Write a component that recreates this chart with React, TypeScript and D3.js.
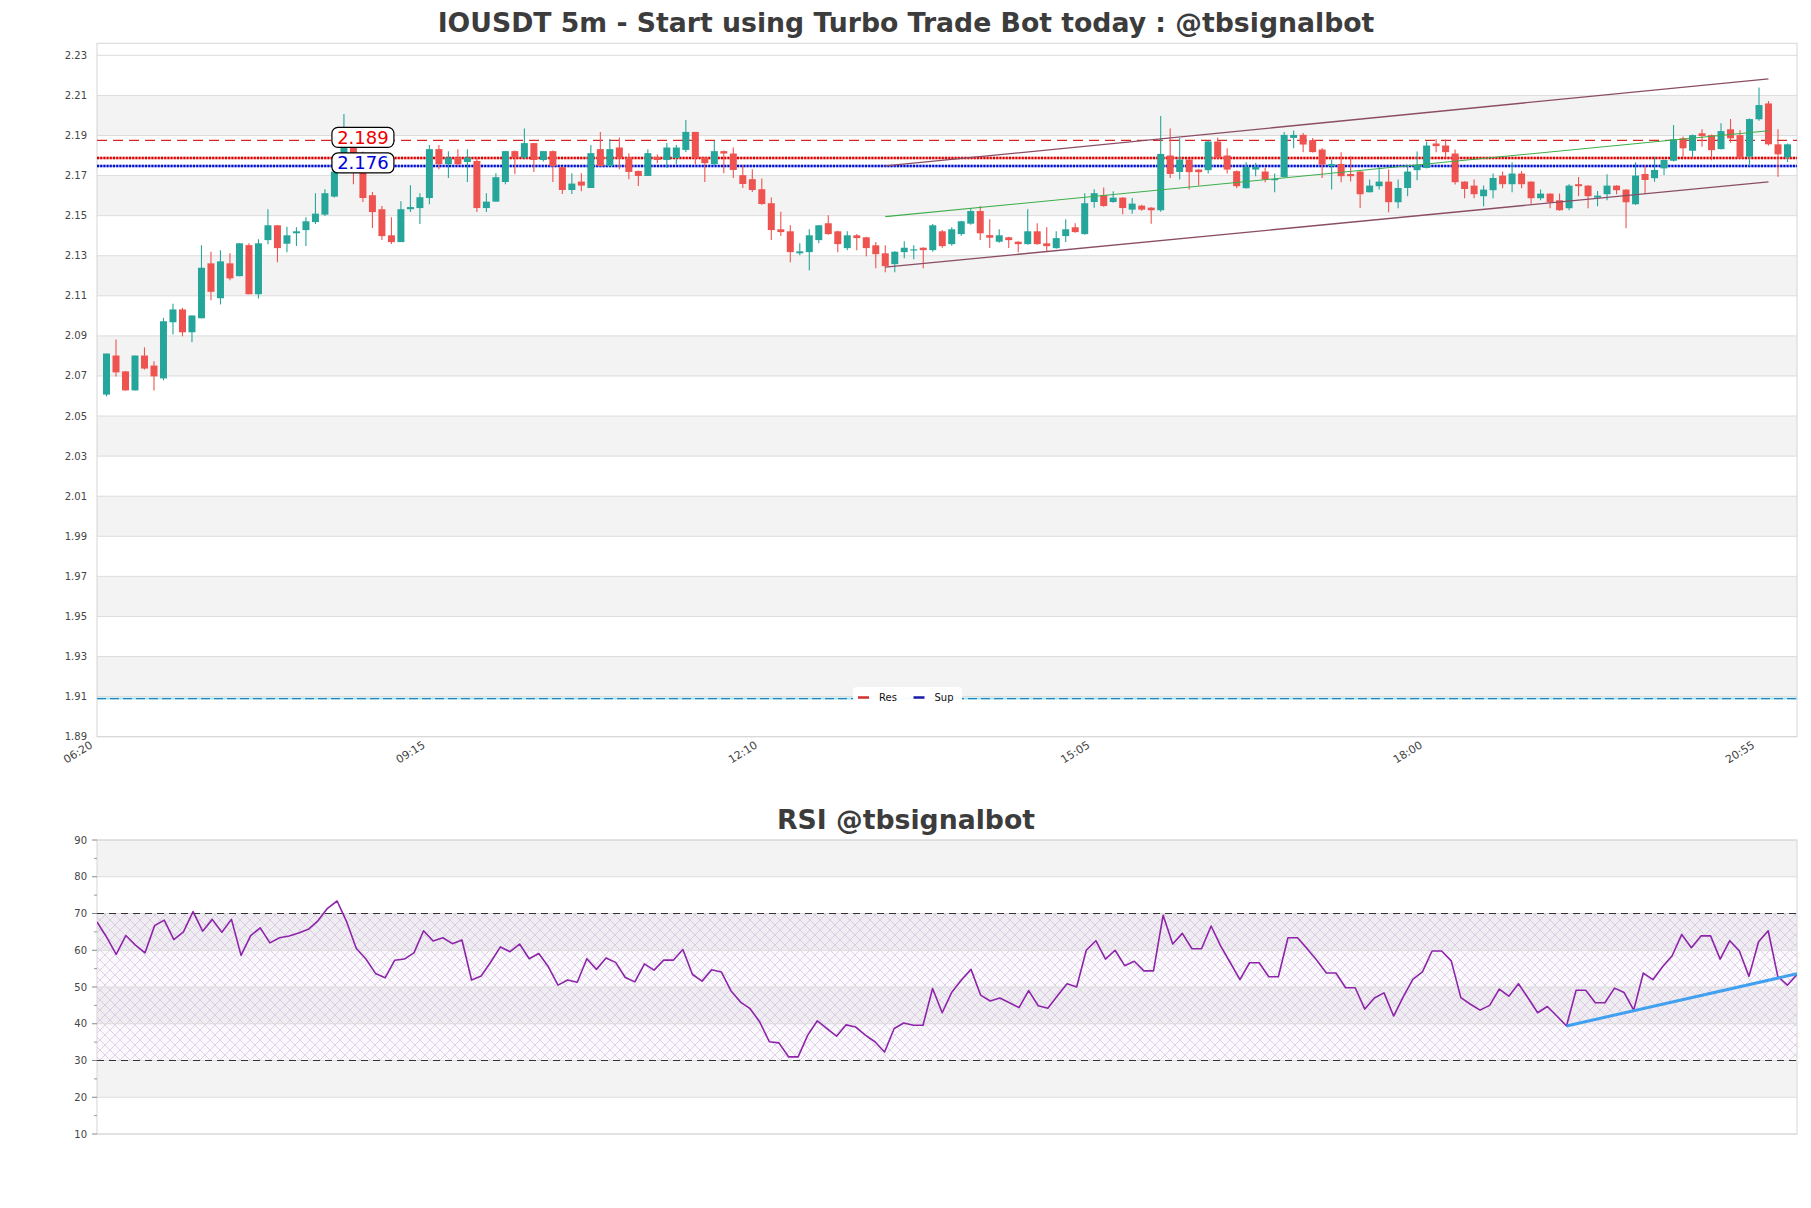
import React from 'react';
import * as d3 from 'd3';

const W = 1811;
const H = 1208;

// ---------- DATA ----------
const open = [2.0607,2.0802,2.0723,2.0628,2.0802,2.0752,2.0688,2.0968,2.1032,2.0918,2.0988,2.1262,2.1088,2.1262,2.1198,2.1353,2.1108,2.1378,2.1452,2.1360,2.1412,2.1428,2.1468,2.1505,2.1595,2.1720,2.1848,2.1715,2.1602,2.1532,2.1402,2.1368,2.1532,2.1538,2.1588,2.1832,2.1757,2.1790,2.1768,2.1773,2.1538,2.1570,2.1668,2.1822,2.1790,2.1862,2.1778,2.1822,2.1742,2.1628,2.1670,2.1638,2.1832,2.1748,2.1840,2.1790,2.1723,2.1698,2.1793,2.1778,2.1788,2.1828,2.1918,2.1790,2.1757,2.1822,2.1810,2.1702,2.1682,2.1632,2.1562,2.1432,2.1422,2.1312,2.1318,2.1378,2.1462,2.1422,2.1338,2.1402,2.1392,2.1352,2.1312,2.1258,2.1318,2.1328,2.1340,2.1328,2.1422,2.1358,2.1408,2.1460,2.1523,2.1403,2.1370,2.1392,2.1370,2.1358,2.1422,2.1362,2.1338,2.1398,2.1442,2.1408,2.1568,2.1602,2.1568,2.1590,2.1530,2.1550,2.1540,2.1527,2.1800,2.1718,2.1780,2.1730,2.1727,2.1870,2.1800,2.1722,2.1637,2.1730,2.1720,2.1680,2.1693,2.1888,2.1903,2.1877,2.1830,2.1747,2.1758,2.1708,2.1720,2.1617,2.1647,2.1670,2.1567,2.1638,2.1727,2.1738,2.1860,2.1850,2.1810,2.1670,2.1650,2.1597,2.1627,2.1700,2.1657,2.1710,2.1670,2.1587,2.1610,2.1577,2.1537,2.1657,2.1650,2.1590,2.1607,2.1650,2.1630,2.1557,2.1708,2.1687,2.1736,2.1774,2.1886,2.1824,2.1911,2.1902,2.1832,2.1931,2.1902,2.1794,2.1981,2.2060,2.1856,2.1791];
const high = [2.0812,2.0882,2.0725,2.0802,2.0843,2.0773,2.0990,2.1060,2.1040,2.1002,2.1352,2.1320,2.1328,2.1312,2.1362,2.1362,2.1382,2.1532,2.1452,2.1445,2.1442,2.1492,2.1612,2.1632,2.1730,2.2007,2.1855,2.1820,2.1618,2.1548,2.1492,2.1572,2.1652,2.1612,2.1852,2.1852,2.1822,2.1832,2.1832,2.1790,2.1612,2.1712,2.1822,2.1825,2.1935,2.1862,2.1822,2.1825,2.1745,2.1712,2.1712,2.1852,2.1918,2.1882,2.1890,2.1812,2.1725,2.1832,2.1805,2.1862,2.1852,2.1977,2.1918,2.1792,2.1872,2.1825,2.1840,2.1752,2.1732,2.1685,2.1590,2.1520,2.1452,2.1362,2.1432,2.1452,2.1502,2.1425,2.1422,2.1408,2.1395,2.1368,2.1352,2.1322,2.1372,2.1352,2.1342,2.1458,2.1428,2.1442,2.1475,2.1535,2.1548,2.1482,2.1432,2.1395,2.1372,2.1532,2.1462,2.1442,2.1422,2.1482,2.1462,2.1612,2.1632,2.1640,2.1622,2.1592,2.1588,2.1555,2.1542,2.1997,2.1935,2.1888,2.1782,2.1732,2.1872,2.1890,2.1837,2.1725,2.1767,2.1763,2.1740,2.1710,2.1917,2.1925,2.1913,2.1888,2.1838,2.1780,2.1817,2.1797,2.1722,2.1680,2.1743,2.1730,2.1680,2.1750,2.1820,2.1870,2.1883,2.1880,2.1830,2.1672,2.1680,2.1650,2.1710,2.1720,2.1767,2.1723,2.1672,2.1630,2.1612,2.1610,2.1657,2.1693,2.1652,2.1623,2.1707,2.1652,2.1632,2.1767,2.1753,2.1794,2.1780,2.1952,2.1895,2.1905,2.1931,2.1905,2.1961,2.1982,2.1927,2.1985,2.2140,2.2072,2.1931,2.1860];
const low = [2.0598,2.0698,2.0627,2.0628,2.0732,2.0628,2.0678,2.0907,2.0898,2.0868,2.0988,2.1078,2.1057,2.1178,2.1198,2.1108,2.1087,2.1357,2.1268,2.1318,2.1348,2.1348,2.1458,2.1498,2.1590,2.1710,2.1657,2.1568,2.1438,2.1378,2.1358,2.1368,2.1518,2.1458,2.1557,2.1732,2.1688,2.1748,2.1668,2.1518,2.1518,2.1570,2.1657,2.1707,2.1782,2.1718,2.1770,2.1668,2.1608,2.1608,2.1622,2.1638,2.1745,2.1745,2.1732,2.1682,2.1648,2.1698,2.1762,2.1738,2.1755,2.1818,2.1755,2.1668,2.1752,2.1712,2.1688,2.1638,2.1618,2.1555,2.1378,2.1398,2.1268,2.1302,2.1228,2.1362,2.1405,2.1318,2.1328,2.1328,2.1298,2.1238,2.1218,2.1218,2.1288,2.1282,2.1238,2.1320,2.1340,2.1350,2.1400,2.1455,2.1378,2.1338,2.1365,2.1338,2.1318,2.1355,2.1355,2.1322,2.1335,2.1368,2.1415,2.1405,2.1540,2.1545,2.1565,2.1507,2.1510,2.1525,2.1460,2.1520,2.1688,2.1680,2.1630,2.1650,2.1710,2.1785,2.1710,2.1637,2.1635,2.1697,2.1667,2.1617,2.1690,2.1837,2.1817,2.1815,2.1688,2.1630,2.1667,2.1670,2.1538,2.1615,2.1630,2.1517,2.1537,2.1597,2.1677,2.1735,2.1817,2.1788,2.1655,2.1587,2.1587,2.1547,2.1587,2.1637,2.1617,2.1637,2.1560,2.1577,2.1537,2.1525,2.1527,2.1597,2.1537,2.1547,2.1577,2.1607,2.1437,2.1553,2.1611,2.1669,2.1703,2.1770,2.1794,2.1794,2.1844,2.1777,2.1830,2.1864,2.1785,2.1748,2.1974,2.1850,2.1694,2.1768];
const close = [2.0812,2.0718,2.0628,2.0802,2.0737,2.0698,2.0973,2.1032,2.0918,2.1002,2.1240,2.1120,2.1272,2.1187,2.1362,2.1108,2.1362,2.1452,2.1338,2.1402,2.1422,2.1472,2.1510,2.1612,2.1720,2.1848,2.1760,2.1588,2.1518,2.1398,2.1368,2.1532,2.1543,2.1592,2.1832,2.1757,2.1790,2.1757,2.1790,2.1538,2.1570,2.1692,2.1822,2.1790,2.1862,2.1778,2.1822,2.1748,2.1628,2.1660,2.1650,2.1812,2.1748,2.1832,2.1790,2.1718,2.1698,2.1812,2.1778,2.1840,2.1840,2.1918,2.1788,2.1762,2.1822,2.1810,2.1728,2.1658,2.1628,2.1558,2.1428,2.1418,2.1318,2.1322,2.1402,2.1452,2.1408,2.1358,2.1402,2.1388,2.1338,2.1308,2.1248,2.1320,2.1340,2.1332,2.1328,2.1452,2.1348,2.1432,2.1472,2.1523,2.1412,2.1390,2.1402,2.1378,2.1358,2.1422,2.1358,2.1348,2.1388,2.1432,2.1418,2.1562,2.1612,2.1548,2.1590,2.1538,2.1560,2.1530,2.1527,2.1808,2.1708,2.1780,2.1717,2.1717,2.1870,2.1788,2.1730,2.1647,2.1743,2.1743,2.1680,2.1683,2.1903,2.1903,2.1855,2.1817,2.1755,2.1757,2.1697,2.1697,2.1607,2.1650,2.1670,2.1567,2.1638,2.1720,2.1753,2.1850,2.1847,2.1817,2.1667,2.1633,2.1607,2.1630,2.1688,2.1657,2.1710,2.1657,2.1587,2.1610,2.1567,2.1527,2.1650,2.1647,2.1597,2.1600,2.1650,2.1627,2.1567,2.1700,2.1678,2.1728,2.1778,2.1881,2.1836,2.1902,2.1897,2.1827,2.1922,2.1886,2.1789,2.1982,2.2052,2.1856,2.1806,2.1856];

const rsi = [67.7,63.6,58.9,64,61.4,59.3,66.7,68.2,62.9,65,70.5,65.2,68.4,64.9,68.4,58.6,64,66.1,62,63.4,63.9,64.7,65.7,68,71.4,73.4,67.7,60.5,57.6,53.7,52.5,57.3,57.6,59.3,65.3,62.5,63.4,61.8,62.8,51.9,53,56.8,60.9,59.6,61.7,57.7,59.1,55.5,50.5,51.9,51.3,57.7,54.8,57.9,56.7,52.6,51.4,56.3,54.6,57.3,57.3,60.2,53.4,51.6,54.7,54.1,49,45.9,44.1,40.5,35.1,34.8,31,31,36.9,40.8,38.7,36.6,39.7,39.1,36.9,35.1,32.3,38.7,40.2,39.6,39.6,49.6,43,48.6,51.9,54.8,47.8,46.2,47,45.7,44.4,49,44.9,44.2,47.6,50.9,50,60,62.6,57.6,60,55.8,57,54.4,54.4,69.5,61.7,64.6,60.4,60.4,66.6,61.1,56.6,52,56.6,56.6,52.8,52.8,63.4,63.4,60.4,57.3,53.8,53.8,49.8,49.8,44,47,48.4,42.1,47.3,52.1,54.1,59.8,59.8,57.1,47.1,45.3,43.7,45,49.4,47.5,50.9,47,43,44.7,42.1,39.4,49.1,49.1,45.7,45.7,49.7,48.5,43.7,53.8,52,55.5,58.5,64.3,60.7,63.9,63.9,57.6,62.6,59.8,52.9,62.3,65.3,52.9,50.5,53.4];

const xTickIndex = [0, 35, 70, 105, 140, 175];
const xTickLabels = ['06:20', '09:15', '12:10', '15:05', '18:00', '20:55'];
const priceTicks = [1.89,1.91,1.93,1.95,1.97,1.99,2.01,2.03,2.05,2.07,2.09,2.11,2.13,2.15,2.17,2.19,2.21,2.23];
const rsiTicks = [10,20,30,40,50,60,70,80,90];
const rsiMinorTicks = [15,25,35,45,55,65,75,85];

const resDashed = 2.1876;
const resDotted = 2.1788;
const supDotted = 2.1748;
const lowDashed = 1.9090;
const resLabel = '2.189';
const supLabel = '2.176';
const labelIndex = 27;

const channelIdx = [82, 175];
const channelUpper = [2.1748, 2.2183];
const channelMiddle = [2.1495, 2.1924];
const channelLower = [2.1243, 2.1669];

const rsiTrendIdx = [153, 177];
const rsiTrendVal = [39.4, 53.6];

const title = 'IOUSDT 5m - Start using Turbo Trade Bot today : @tbsignalbot';
const rsiTitle = 'RSI @tbsignalbot';
const legendItems = [{ name: 'Res', color: '#d32f2f' }, { name: 'Sup', color: '#1a1aa8' }];

// ---------- LAYOUT ----------
const L = 97, R = 1797;
const mainTop = 43.3, mainBottom = 736.7;
const rsiTop = 840, rsiBottom = 1134;
const FONT = '"DejaVu Sans", sans-serif';
const UP = '#26a69a', DOWN = '#ef5350';
const BAND = '#f3f3f3', GRID = '#dcdcdc';

export default function App() {
  const n = close.length;
  const x = d3.scaleLinear().domain([-1, n]).range([L, R]);
  const y = d3.scaleLinear().domain([1.89, 1.89 + (mainBottom - mainTop) / 2004]).range([mainBottom, mainTop]);
  const xr = d3.scaleLinear().domain([0, n - 1]).range([L, R]);
  const yr = d3.scaleLinear().domain([10, 90]).range([rsiBottom, rsiTop]);
  const cw = 7;

  const rsiLine = d3.line<number>().x((_, i) => xr(i)).y((v) => yr(v));

  const priceBands = priceTicks.slice(0, -1).map((t, k) => ({ a: t, b: priceTicks[k + 1], k }));
  const rsiBands = rsiTicks.slice(0, -1).map((t, k) => ({ a: t, b: rsiTicks[k + 1], k }));

  const lbl = (text: string, price: number, color: string) => {
    const cx = x(labelIndex);
    const cy = y(price) - 3;
    return (
      <g>
        <rect x={cx - 31} y={cy - 10} width={62} height={20} rx={6} fill="#fff" stroke="#000" strokeWidth={1.2} />
        <text x={cx} y={cy} dy="0.36em" textAnchor="middle" fontSize={18} fill={color} fontFamily={FONT}>{text}</text>
      </g>
    );
  };

  return (
    <div style={{ position: 'absolute', left: 0, top: 0 }}>
      <svg width={W} height={H} style={{ display: 'block', background: '#fff' }}>
        <defs>
          <pattern id="hatch" width={10} height={10} patternUnits="userSpaceOnUse">
            <path d="M0,0 L10,10 M10,0 L0,10" stroke="#c9b6d6" strokeWidth={0.6} fill="none" />
          </pattern>
          <clipPath id="mainClip"><rect x={L} y={mainTop} width={R - L} height={mainBottom - mainTop} /></clipPath>
          <clipPath id="rsiClip"><rect x={L} y={rsiTop} width={R - L} height={rsiBottom - rsiTop} /></clipPath>
        </defs>

        {/* Titles */}
        <text x={906} y={32} textAnchor="middle" fontSize={26.7} fontWeight="bold" fill="#3c3c3c" fontFamily={FONT}>{title}</text>
        <text x={906} y={829} textAnchor="middle" fontSize={26.7} fontWeight="bold" fill="#3c3c3c" fontFamily={FONT}>{rsiTitle}</text>

        {/* ---------- MAIN PANEL ---------- */}
        <g>
          {priceBands.map((b) => (
            <rect key={b.k} x={L} y={y(b.b)} width={R - L} height={y(b.a) - y(b.b)} fill={b.k % 2 === 1 ? BAND : '#fff'} />
          ))}
          {priceTicks.map((t) => (
            <line key={t} x1={L} x2={R} y1={y(t)} y2={y(t)} stroke={GRID} strokeWidth={1} />
          ))}
          <rect x={L} y={mainTop} width={R - L} height={mainBottom - mainTop} fill="none" stroke="#d6d6d6" strokeWidth={1} />
          {priceTicks.map((t) => (
            <text key={t} x={87} y={y(t)} dy="0.35em" textAnchor="end" fontSize={10} fill="#444" fontFamily={FONT}>{t.toFixed(2)}</text>
          ))}
          {xTickIndex.map((idx, k) => (
            <text key={idx} transform={`translate(${x(idx) - 13},${747}) rotate(-32)`} textAnchor="end" fontSize={11} fill="#444" fontFamily={FONT}>{xTickLabels[k]}</text>
          ))}

          <g clipPath="url(#mainClip)">
            {/* low dashed cyan line */}
            <line x1={L} x2={R} y1={y(lowDashed)} y2={y(lowDashed)} stroke="#a9e3ef" strokeWidth={2} />
            <line x1={L} x2={R} y1={y(lowDashed)} y2={y(lowDashed)} stroke="#1f87bd" strokeWidth={1.3} strokeDasharray="9,4" />

            {/* res/sup lines */}
            <line x1={L} x2={R} y1={y(resDashed)} y2={y(resDashed)} stroke="#d62728" strokeWidth={1.2} strokeDasharray="10,6" />
            <line x1={L} x2={R} y1={y(resDotted)} y2={y(resDotted)} stroke="#f0b0b0" strokeWidth={2.6} />
            <line x1={L} x2={R} y1={y(resDotted)} y2={y(resDotted)} stroke="#e00000" strokeWidth={2.6} strokeDasharray="2,1.2" />
            <line x1={L} x2={R} y1={y(supDotted)} y2={y(supDotted)} stroke="#aab0f0" strokeWidth={2.6} />
            <line x1={L} x2={R} y1={y(supDotted)} y2={y(supDotted)} stroke="#0010d0" strokeWidth={2.6} strokeDasharray="2,1.2" />

            {/* candles */}
            {close.map((c, i) => {
              const o = open[i];
              const up = c >= o;
              const col = up ? UP : DOWN;
              const top = y(Math.max(o, c));
              const bot = y(Math.min(o, c));
              return (
                <g key={i}>
                  <line x1={x(i)} x2={x(i)} y1={y(high[i])} y2={y(low[i])} stroke={col} strokeWidth={1.1} />
                  <rect x={x(i) - cw / 2} y={top} width={cw} height={Math.max(1.2, bot - top)} fill={col} />
                </g>
              );
            })}

            {/* channel */}
            <line x1={x(channelIdx[0])} x2={x(channelIdx[1])} y1={y(channelUpper[0])} y2={y(channelUpper[1])} stroke="#8b4d66" strokeWidth={1.3} />
            <line x1={x(channelIdx[0])} x2={x(channelIdx[1])} y1={y(channelLower[0])} y2={y(channelLower[1])} stroke="#8b4d66" strokeWidth={1.3} />
            <line x1={x(channelIdx[0])} x2={x(channelIdx[1])} y1={y(channelMiddle[0])} y2={y(channelMiddle[1])} stroke="#3cae4a" strokeWidth={1.1} />
          </g>

          {lbl(resLabel, resDashed, '#ee0000')}
          {lbl(supLabel, supDotted, '#0000dd')}

          {/* legend */}
          <g>
            <rect x={853} y={687} width={109} height={20} rx={4} fill="#fff" fillOpacity={0.95} />
            {legendItems.map((it, k) => (
              <g key={it.name} transform={`translate(${858 + k * 55.5},${697.5})`}>
                <line x1={0} x2={11} y1={0} y2={0} stroke={it.color} strokeWidth={2.5} />
                <text x={21} y={0} dy="0.35em" fontSize={10} fill="#111" fontFamily={FONT}>{it.name}</text>
              </g>
            ))}
          </g>
        </g>

        {/* ---------- RSI PANEL ---------- */}
        <g>
          {rsiBands.map((b) => (
            <rect key={b.k} x={L} y={yr(b.b)} width={R - L} height={yr(b.a) - yr(b.b)} fill={b.k % 2 === 1 ? BAND : '#fff'} />
          ))}
          <rect x={L} y={yr(70)} width={R - L} height={yr(30) - yr(70)} fill="#c8a8dc" fillOpacity={0.07} />
          <rect x={L} y={yr(70)} width={R - L} height={yr(30) - yr(70)} fill="url(#hatch)" />
          {rsiTicks.map((t) => (
            <line key={t} x1={L} x2={R} y1={yr(t)} y2={yr(t)} stroke={GRID} strokeWidth={1} />
          ))}
          <rect x={L} y={rsiTop} width={R - L} height={rsiBottom - rsiTop} fill="none" stroke="#d6d6d6" strokeWidth={1} />
          {rsiTicks.map((t) => (
            <g key={t}>
              <line x1={L - 5} x2={L} y1={yr(t)} y2={yr(t)} stroke="#888" strokeWidth={1} />
              <text x={87} y={yr(t)} dy="0.35em" textAnchor="end" fontSize={10} fill="#444" fontFamily={FONT}>{t}</text>
            </g>
          ))}
          {rsiMinorTicks.map((t) => (
            <line key={t} x1={L - 3} x2={L} y1={yr(t)} y2={yr(t)} stroke="#999" strokeWidth={1} />
          ))}
          <line x1={L} x2={R} y1={yr(70)} y2={yr(70)} stroke="#333" strokeWidth={1.2} strokeDasharray="7,5" />
          <line x1={L} x2={R} y1={yr(30)} y2={yr(30)} stroke="#333" strokeWidth={1.2} strokeDasharray="7,5" />
          <g clipPath="url(#rsiClip)">
            <path d={rsiLine(rsi) || ''} fill="none" stroke="#8e24aa" strokeWidth={1.6} strokeLinejoin="round" />
            <line x1={xr(rsiTrendIdx[0])} x2={xr(rsiTrendIdx[1])} y1={yr(rsiTrendVal[0])} y2={yr(rsiTrendVal[1])} stroke="#42a0f0" strokeWidth={3} />
          </g>
        </g>
      </svg>
    </div>
  );
}
